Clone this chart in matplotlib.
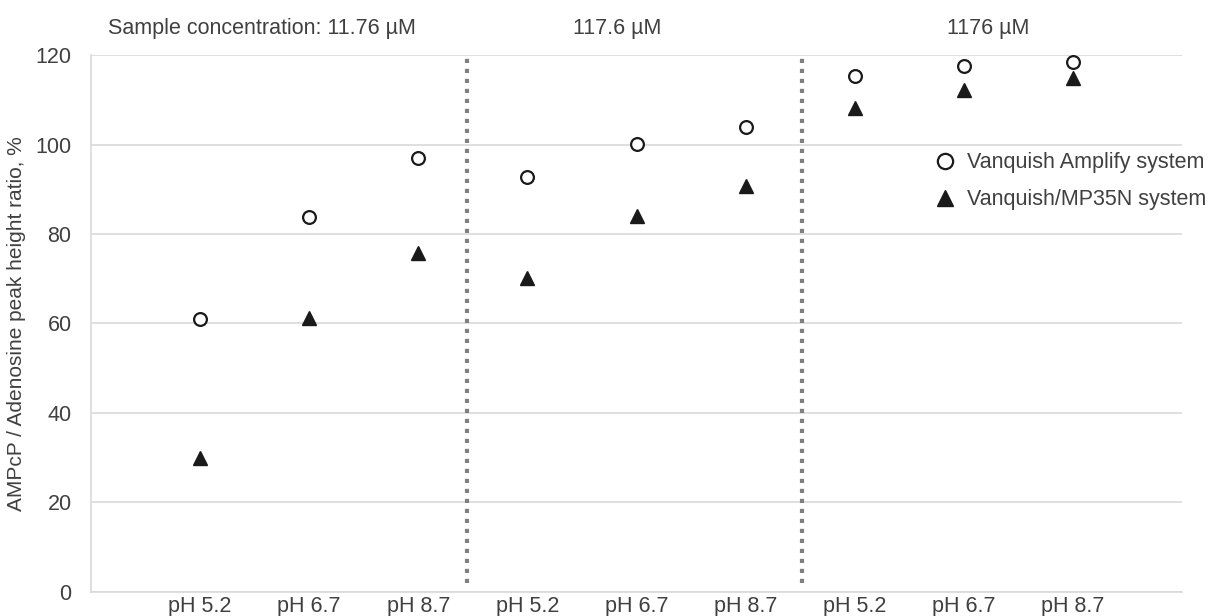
import matplotlib
matplotlib.use("Agg")
import matplotlib.pyplot as plt
from matplotlib.lines import Line2D

plt.rcParams['font.family'] = ['Liberation Sans', 'DejaVu Sans']

# Data
ph_labels = ['pH 5.2', 'pH 6.7', 'pH 8.7'] * 3
amplify = [60.9, 83.8, 96.9, 92.8, 100.2, 103.9, 115.2, 117.6, 118.5]
mp35n = [29.9, 61.3, 75.8, 70.2, 84.1, 90.7, 108.2, 112.2, 114.8]
group_titles = ['Sample concentration: 11.76 µM', '117.6 µM', '1176 µM']
group_title_x = [1.57, 4.82, 8.22]
divider_x = [3.45, 6.52]

text_color = '#404040'
grid_color = '#d9d9d9'
marker_color = '#1a1a1a'
fs = 15.5

fig = plt.figure(figsize=(12.1, 6.16), dpi=100)
ax = fig.add_axes([0.0752, 0.039, 0.9017, 0.8717])

x = list(range(1, len(ph_labels) + 1))

# Points
ax.plot(x, amplify, linestyle='none', marker='o', markersize=9.2,
        markerfacecolor='white', markeredgecolor=marker_color,
        markeredgewidth=1.6, zorder=4)
ax.plot(x, mp35n, linestyle='none', marker='^', markersize=10,
        markerfacecolor=marker_color, markeredgecolor=marker_color,
        zorder=4)

# Group dividers
ax.vlines(divider_x, 2, 120, colors='#808080', linewidth=3,
          linestyles=(0, (1, 1.4)), zorder=3)

# Axes formatting
ax.set_xlim(0, 10)
ax.set_ylim(0, 120)
ax.set_yticks(range(0, 121, 20))
ax.set_xticks(x)
ax.set_xticklabels(ph_labels)
ax.tick_params(axis='both', length=0, labelsize=fs, labelcolor=text_color)
ax.tick_params(axis='x', pad=3)
ax.tick_params(axis='y', pad=14)
ax.grid(axis='y', color=grid_color, linewidth=1.2, zorder=0)
ax.set_axisbelow(True)
for side in ['top', 'right']:
    ax.spines[side].set_visible(False)
for side in ['left', 'bottom']:
    ax.spines[side].set_color(grid_color)
    ax.spines[side].set_linewidth(1.2)

ax.set_ylabel('AMPcP / Adenosine peak height ratio, %', fontsize=15,
              color=text_color, labelpad=7)

# Group titles
for gx, title in zip(group_title_x, group_titles):
    ax.text(gx, 1.05, title, transform=ax.get_xaxis_transform(),
            ha='center', va='center', fontsize=fs, color=text_color)

# Legend
handles = [
    Line2D([], [], linestyle='none', marker='o', markersize=11,
           markerfacecolor='white', markeredgecolor=marker_color,
           markeredgewidth=1.6, label='Vanquish Amplify system'),
    Line2D([], [], linestyle='none', marker='^', markersize=12,
           markerfacecolor=marker_color, markeredgecolor=marker_color,
           label='Vanquish/MP35N system'),
]
leg = ax.legend(handles=handles, loc='upper left',
                bbox_to_anchor=(0.765, 0.835), frameon=False,
                fontsize=fs, handlelength=1.0, handletextpad=0.5,
                labelspacing=0.75, borderaxespad=0)
for t in leg.get_texts():
    t.set_color(text_color)

fig.savefig('out.png', dpi=100, facecolor='white')
